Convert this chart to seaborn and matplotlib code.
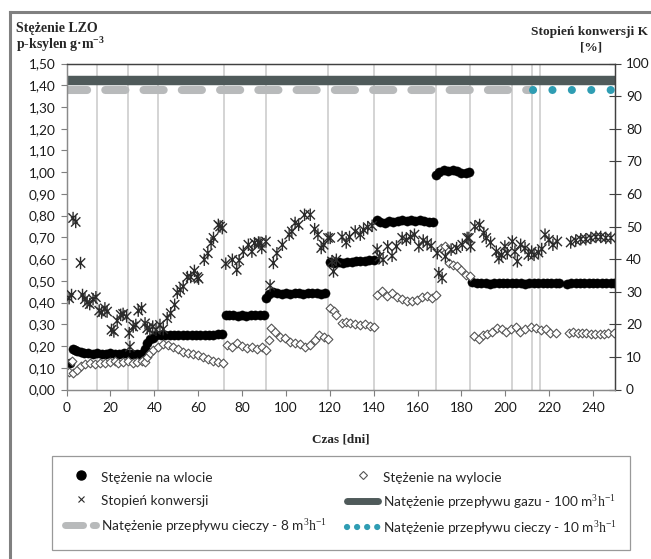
import matplotlib
matplotlib.use("Agg")
import matplotlib.pyplot as plt
import numpy as np
import pandas as pd
import seaborn as sns
from matplotlib.lines import Line2D
from matplotlib.path import Path
from matplotlib.ticker import FuncFormatter, MultipleLocator

# ---------------- data ----------------
# inlet concentration of p-xylene [g/m3]
inlet_days = [1.8, 2.8, 4.0, 5.0, 6.5, 8, 10, 12, 14, 16, 18, 20, 22, 24, 26, 28, 30, 32, 34, 35.8, 36.8, 38, 39.5,
              41, 43, 45, 47, 49, 51, 53, 55, 57, 59, 61, 63, 65, 67, 69, 71,
              72.5, 74, 76, 78, 80, 82, 84, 86, 88, 90,
              91, 92.5, 94, 96, 98, 100, 102, 104, 106, 108, 110, 112, 114, 116, 118,
              120, 122, 124, 126, 128, 130, 132, 134, 136, 138, 140,
              141.5, 143, 145, 147, 149, 151, 153, 155, 157, 159, 161, 163, 165, 167,
              168.5, 170, 172, 174, 176, 178, 180, 182, 183.5,
              185, 187, 189, 191, 193, 195, 197, 199, 201, 203, 205, 207, 209, 211, 213, 215, 217, 219, 221, 223, 224.6,
              228.2, 230, 232, 234, 236, 238, 240, 242, 244, 246, 248, 249.6]
inlet_vals = [0.124, 0.186, 0.182, 0.178, 0.172, 0.168, 0.166, 0.165, 0.166, 0.164, 0.165, 0.166, 0.165, 0.164,
              0.166, 0.165, 0.164, 0.163, 0.164, 0.185, 0.215, 0.232, 0.236,
              0.250, 0.252, 0.250, 0.253, 0.251, 0.250, 0.252, 0.250, 0.251, 0.253, 0.250, 0.252, 0.251, 0.253,
              0.254, 0.256,
              0.345, 0.343, 0.341, 0.338, 0.342, 0.340, 0.343, 0.341, 0.344, 0.342,
              0.420, 0.440, 0.447, 0.442, 0.440, 0.443, 0.441, 0.445, 0.442, 0.440, 0.443, 0.442, 0.444, 0.441, 0.443,
              0.585, 0.582, 0.586, 0.584, 0.588, 0.587, 0.590, 0.589, 0.592, 0.594, 0.597,
              0.780, 0.772, 0.768, 0.775, 0.772, 0.776, 0.779, 0.777, 0.780, 0.776, 0.779, 0.775, 0.772, 0.770,
              0.985, 1.000, 1.008, 1.006, 1.010, 1.004, 0.995, 0.998, 1.002,
              0.495, 0.488, 0.490, 0.489, 0.487, 0.490, 0.492, 0.489, 0.488, 0.490, 0.491, 0.489, 0.487, 0.490,
              0.488, 0.491, 0.490, 0.489, 0.488, 0.490, 0.491,
              0.486, 0.488, 0.490, 0.489, 0.491, 0.490, 0.492, 0.490, 0.489, 0.491, 0.490, 0.492]

# outlet concentration [g/m3]
outlet_days = [1.2, 2.3, 3.0, 4.8, 6.8, 8.4, 10.6, 12.9, 15.2, 17.5, 19.8, 22.1, 23.6, 25.8, 28.1, 30.1, 32.0, 34.2, 35.8,
               36.8, 38.0, 39.5, 41.8, 44.1, 46.4, 48.7, 51.0, 53.2, 55.5, 57.8, 60.1, 62.4, 64.7, 66.9, 69.2, 71.5,
               73.1, 75.3, 77.6, 79.9, 82.2, 84.5, 86.8, 89.0, 91.0, 92.1,
               93.3, 95.1, 97.4, 99.7, 102.0, 104.2, 106.5, 108.8, 111.1, 113.1, 114.9, 117.2, 119.2,
               120.2, 121.7, 123.0, 125.6, 127.5, 129.4, 131.6, 133.9, 136.2, 138.2, 140.0,
               141.6, 143.8, 146.1, 148.4, 150.7, 153.0, 155.3, 157.5, 159.8, 162.1, 164.4, 166.7, 168.6,
               170.5, 172.3, 174.3, 176.3, 178.1, 179.9, 181.9, 183.7,
               185.7, 187.9, 189.8, 191.8, 194.1, 196.3, 198.3, 200.1, 202.4, 204.7, 206.9, 209.2, 211.5, 213.8,
               216.1, 218.4, 220.6, 223.2,
               229, 231, 233, 235, 237, 239, 241, 243, 245, 247, 249.5]
outlet_vals = [0.082, 0.133, 0.077, 0.090, 0.108, 0.118, 0.121, 0.118, 0.121, 0.124, 0.128, 0.133, 0.124, 0.128,
               0.133, 0.124, 0.128, 0.133, 0.128,
               0.151, 0.167, 0.182, 0.197, 0.210, 0.205, 0.197, 0.185, 0.174, 0.167, 0.162, 0.159, 0.151, 0.139,
               0.133, 0.128, 0.124,
               0.205, 0.197, 0.213, 0.200, 0.190, 0.197, 0.185, 0.197, 0.182, 0.228,
               0.282, 0.266, 0.243, 0.236, 0.220, 0.213, 0.210, 0.197, 0.205, 0.228, 0.251, 0.241, 0.231,
               0.374, 0.360, 0.345, 0.308, 0.312, 0.305, 0.302, 0.297, 0.302, 0.293, 0.287,
               0.435, 0.451, 0.428, 0.443, 0.425, 0.416, 0.409, 0.405, 0.412, 0.425, 0.428, 0.420, 0.435,
               0.651, 0.658, 0.582, 0.574, 0.566, 0.551, 0.528, 0.523,
               0.247, 0.231, 0.251, 0.256, 0.266, 0.282, 0.277, 0.266, 0.277, 0.289, 0.266, 0.277, 0.287, 0.282,
               0.274, 0.277, 0.262, 0.259,
               0.262, 0.265, 0.262, 0.258, 0.258, 0.256, 0.255, 0.256, 0.256, 0.258, 0.258]

# degree of conversion K [%]
conv_days = [1.2, 2.3, 3.0, 4.2, 6.4, 7.3, 8.4, 9.4, 10.6, 12.1, 13.4, 14.9, 16.0, 17.5, 18.5, 20.5, 21.6, 23.1,
             24.7, 25.8, 27.4, 28.6, 28.9, 30.4, 31.6, 32.7, 34.2, 35.8, 36.8, 38.0, 39.3, 40.8, 42.6, 44.1, 45.9,
             47.5, 49.3, 50.5, 51.8, 53.2, 55.1, 56.6, 58.3, 59.6, 60.2, 62.8, 64.4, 65.9, 67.0, 69.2, 70.0, 71.0,
             72.6, 75.6, 77.6, 78.7, 80.6, 82.9, 84.5, 85.7, 87.5, 88.2, 89.0, 90.9, 92.8, 94.3, 95.9, 98.4, 101.5,
             102.7, 104.2, 105.8, 108.5, 111.1, 113.1, 114.6, 116.1, 117.2, 119.2, 120.2, 121.0, 121.7, 123.0,
             125.6, 127.5, 129.0, 131.6, 133.9, 135.4, 137.3, 139.3, 141.6, 142.7, 144.3, 146.4, 148.4, 150.4,
             153.0, 154.9, 156.8, 158.6, 160.6, 162.6, 164.4, 166.2, 169.0, 169.7, 171.2, 172.7, 175.3, 177.8,
             180.4, 182.6, 183.4, 184.2, 186.1, 188.3, 190.2, 191.3, 193.3, 195.9, 197.1, 198.3, 199.8, 200.9,
             203.2, 204.4, 205.5, 207.0, 209.0, 210.5, 212.0, 213.1, 215.1, 216.6, 218.1, 219.9, 221.7, 223.7,
             229.8, 232.1, 234.4, 236.7, 239.0, 241.3, 243.5, 245.8, 248.1]
conv_vals = [28.0, 29.0, 52.6, 51.4, 38.8, 29.0, 27.7, 26.7, 26.2, 27.7, 28.3, 24.2, 23.6, 24.9, 23.9, 18.3, 17.8, 21.1,
             22.9, 23.2, 22.4, 17.3, 13.1, 19.3, 19.8, 24.2, 24.9, 20.3, 18.8, 18.3, 19.3, 18.3, 19.8, 18.5, 21.9,
             23.4, 26.0, 29.7, 30.6, 31.6, 34.5, 34.5, 36.4, 34.5, 34.0, 39.8, 41.8, 44.9, 46.5, 50.5, 50.0, 49.5,
             38.6, 39.8, 36.7, 39.6, 42.3, 44.4, 42.3, 44.9, 45.1, 45.0, 43.4, 45.4, 31.9, 38.8, 41.8, 44.4, 47.5,
             48.5, 51.1, 50.5, 53.6, 53.6, 49.2, 47.5, 43.4, 44.4, 46.5, 46.5, 39.3, 36.2, 39.8,
             46.8, 45.1, 46.8, 48.5, 47.5, 49.0, 49.8, 50.2, 42.9, 40.8, 39.8, 43.9, 41.0, 43.9,
             46.5, 45.9, 46.8, 47.5, 43.9, 45.7, 44.9, 44.1, 41.8, 35.7, 34.2, 40.8, 42.9, 43.4,
             44.4, 46.5, 46.5, 43.9, 50.0, 50.5, 48.0, 46.5, 45.1, 42.3, 40.3, 41.3, 43.9, 41.8,
             45.4, 42.3, 39.3, 44.4, 43.4, 41.3, 42.3, 41.3, 42.0, 43.1, 47.5, 45.9, 44.4, 45.4,
             45.1, 45.7, 46.1, 46.1, 46.5, 46.8, 46.8, 46.5, 46.5]

# days on which operating conditions were changed
change_days = [14, 28, 41.5, 72, 91, 119.3, 140, 168.3, 183.8, 203.2, 212.2, 215.8]

# flow-rate bands drawn across the top of the plot (start day, end day, level)
gas_span = [0, 250]
gas_level = 1.425
liquid8_span = [0, 212.2]
liquid10_span = [212.6, 250]
liquid_level = 1.378

x_ticks = list(range(0, 241, 20))

labels = {
    "inlet": "Stężenie na wlocie",
    "outlet": "Stężenie na wylocie",
    "conv": "Stopień konwersji",
    "gas": r"Natężenie przepływu gazu - 100 m$^{\mathrm{3}}\mathrm{h}^{\mathrm{-1}}$",
    "liq8": r"Natężenie przepływu cieczy - 8 m$^{\mathrm{3}}\mathrm{h}^{\mathrm{-1}}$",
    "liq10": r"Natężenie przepływu cieczy - 10 m$^{\mathrm{3}}\mathrm{h}^{\mathrm{-1}}$",
}

# ---------------- styling ----------------
sns.set_theme(style="white")
plt.rcParams["font.family"] = ["Lato", "DejaVu Sans"]
plt.rcParams["mathtext.fontset"] = "custom"
plt.rcParams["mathtext.rm"] = "Liberation Serif"
plt.rcParams["mathtext.bf"] = "Liberation Serif:bold"

C_GAS = "#4f5a5a"
C_LIQ8 = "#b8babb"
C_LIQ10 = "#2f9db3"
SERIF = ["Liberation Serif", "DejaVu Serif"]

W, H = 651, 559
fig = plt.figure(figsize=(W / 100, H / 100), dpi=100)
fig.patch.set_facecolor("white")

x0, x1, ytop, ybot = 66.5, 615, 63.5, 389.5
ax = fig.add_axes([x0 / W, 1 - ybot / H, (x1 - x0) / W, (ybot - ytop) / H])
ax2 = ax.twinx()

# change-of-regime lines
for d in change_days:
    ax.axvline(d, color="#c9c9c9", lw=1.1, zorder=0)

# flow-rate bands
gas_df = pd.DataFrame({"dzien": gas_span, "v": [gas_level] * 2})
sns.lineplot(data=gas_df, x="dzien", y="v", ax=ax, color=C_GAS, lw=6.8,
             solid_capstyle="butt", zorder=2)
liq8_df = pd.DataFrame({"dzien": liquid8_span, "v": [liquid_level] * 2})
sns.lineplot(data=liq8_df, x="dzien", y="v", ax=ax, color=C_LIQ8, lw=5.8,
             linestyle=(0, (2.5, 2.25)), dash_capstyle="round", zorder=2)
liq10_df = pd.DataFrame({"dzien": liquid10_span, "v": [liquid_level] * 2})
sns.lineplot(data=liq10_df, x="dzien", y="v", ax=ax, color=C_LIQ10, lw=5.8,
             linestyle=(0, (0.01, 2.4)), dash_capstyle="round", zorder=3)

# concentrations
in_df = pd.DataFrame({"dzien": inlet_days, "c": inlet_vals})
out_df = pd.DataFrame({"dzien": outlet_days, "c": outlet_vals})
sns.scatterplot(data=in_df, x="dzien", y="c", ax=ax, marker="o", s=44,
                color="black", edgecolor="black", linewidth=0.3, zorder=4)
sns.scatterplot(data=out_df, x="dzien", y="c", ax=ax, marker="D", s=20,
                facecolor="white", edgecolor="#555555", linewidth=0.8, zorder=5)

# conversion on the secondary axis (asterisk-like marker)
star = Path([(-0.75, -0.75), (0.75, 0.75), (-0.75, 0.75), (0.75, -0.75), (0, -1), (0, 1)],
            [Path.MOVETO, Path.LINETO, Path.MOVETO, Path.LINETO, Path.MOVETO, Path.LINETO])
conv_df = pd.DataFrame({"dzien": conv_days, "k": conv_vals})
sns.scatterplot(data=conv_df, x="dzien", y="k", ax=ax2, marker=star, s=80,
                facecolor="none", edgecolor="#2b2b2b", linewidth=1.0, zorder=6)

# axes, ticks, spines
ax.set_xlim(0, 250)
ax.set_ylim(0, 1.5)
ax2.set_ylim(0, 100)
ax.set_xlabel("")
ax.set_ylabel("")
ax2.set_ylabel("")
ax.set_xticks(x_ticks)
ax.yaxis.set_major_locator(MultipleLocator(0.1))
ax.yaxis.set_major_formatter(FuncFormatter(lambda v, p: f"{v:.2f}".replace(".", ",")))
ax2.yaxis.set_major_locator(MultipleLocator(10))
ax2.yaxis.set_major_formatter(FuncFormatter(lambda v, p: f"{v:.0f}"))

ax.tick_params(axis="x", direction="out", length=4, width=0.8, color="#7f7f7f",
               labelsize=9.8, labelcolor="#1a1a1a", pad=5, bottom=True)
ax.tick_params(axis="y", direction="out", length=4, width=0.8, color="#7f7f7f",
               labelsize=9.8, labelcolor="#1a1a1a", pad=4, left=True)
ax2.tick_params(axis="y", direction="inout", length=8, width=0.8, color="#404040",
                labelsize=9.8, labelcolor="#1a1a1a", pad=4, right=True)

for a in (ax, ax2):
    for side in ("left", "bottom"):
        a.spines[side].set_color("#8a8a8a")
        a.spines[side].set_linewidth(0.9)
    a.spines["right"].set_color("#404040")
    a.spines["right"].set_linewidth(0.9)
    a.spines["top"].set_color("#404040")
    a.spines["top"].set_linewidth(0.9)
    a.grid(False)
ax.patch.set_alpha(0)

# titles
fig.text(16 / W, 1 - 28.5 / H, "Stężenie LZO", ha="left", va="center",
         family=SERIF, fontweight="bold", fontsize=10.0)
fig.text(16 / W, 1 - 44 / H, r"p-ksylen g·m$^{\mathbf{-3}}$", ha="left", va="center",
         family=SERIF, fontweight="bold", fontsize=10.0)
fig.text(648 / W, 1 - 31.5 / H, "Stopień konwersji K", ha="right", va="center",
         family=SERIF, fontweight="bold", fontsize=9.6)
fig.text(591 / W, 1 - 48 / H, "[%]", ha="center", va="center",
         family=SERIF, fontweight="bold", fontsize=9.6)
fig.text(341 / W, 1 - 439 / H, "Czas [dni]", ha="center", va="center",
         family=SERIF, fontweight="bold", fontsize=9.5)

# outer frame (top and left edges)
fig.add_artist(Line2D([10 / W, 10 / W], [0, 1 - 12 / H], transform=fig.transFigure,
                      color="#808080", lw=2.2, solid_capstyle="projecting"))
fig.add_artist(Line2D([10 / W, 1], [1 - 12 / H, 1 - 12 / H], transform=fig.transFigure,
                      color="#808080", lw=2.2, solid_capstyle="projecting"))

# legend
h_in = Line2D([], [], ls="none", marker="o", ms=6.5, mfc="black", mec="black")
h_out = Line2D([], [], ls="none", marker="D", ms=4.2, mfc="white", mec="#555555", mew=0.8)
h_conv = Line2D([], [], ls="none", marker="x", ms=4.5, mec="#2b2b2b", mew=0.8)
h_gas = Line2D([], [], color=C_GAS, lw=5, solid_capstyle="round")
h_l8 = Line2D([], [], color=C_LIQ8, lw=5, linestyle=(0, (2.6, 1.4)), dash_capstyle="round")
h_l10 = Line2D([], [], color=C_LIQ10, lw=4.5, linestyle=(0, (0.01, 1.6)), dash_capstyle="round")
leg = fig.legend([h_in, h_conv, h_l8, h_out, h_gas, h_l10],
                 [labels["inlet"], labels["conv"], labels["liq8"],
                  labels["outlet"], labels["gas"], labels["liq10"]],
                 ncol=2, loc="upper left", mode="expand",
                 bbox_to_anchor=(52 / W, 0, 578 / W, 1 - 456 / H),
                 fontsize=9.8, frameon=True, fancybox=False, edgecolor="#808080",
                 handlelength=2.3, handleheight=1.45, handletextpad=0.35,
                 labelspacing=0.55, borderpad=0.95, borderaxespad=0)
leg.get_frame().set_linewidth(0.9)

fig.savefig("out.png", dpi=100, facecolor="white")
